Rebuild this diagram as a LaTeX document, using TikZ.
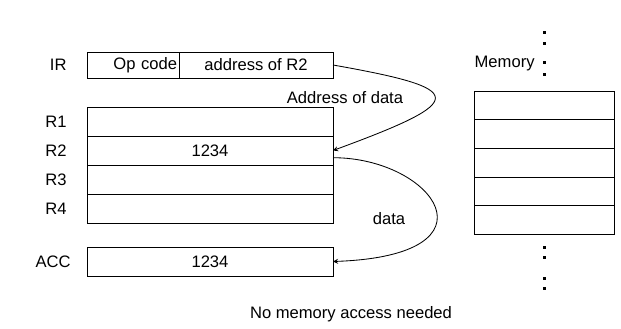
\documentclass[tikz,border=0pt]{standalone}
\usepackage{fontspec}
\setmainfont{Liberation Sans}
\usetikzlibrary{positioning,arrows}
\tikzset{
  regbox/.style={rectangle, draw=black, minimum width=6.15cm, minimum height=0.725cm, inner sep=0pt, outer sep=0pt},
  opbox/.style={rectangle, draw=black, minimum width=2.3cm, minimum height=0.65cm, inner sep=0pt, outer sep=0pt},
  addrbox/.style={rectangle, draw=black, minimum width=3.85cm, minimum height=0.65cm, inner sep=0pt, outer sep=0pt},
  membox/.style={rectangle, draw=black, minimum width=3.5cm, minimum height=0.715cm, inner sep=0pt, outer sep=0pt},
  lbl/.style={inner sep=0pt},
  dot/.style={rectangle, fill=black, minimum size=0.075cm, inner sep=0pt},
  node distance=0pt
}
\begin{document}
\begin{tikzpicture}[line width=0.6pt, font=\fontsize{11.8}{13}\selectfont, >=stealth]
	\useasboundingbox (0,0) rectangle (15.525,-8.225);
	\node[opbox, text width=2.2cm, align=right] (opcode) at (3.325,-1.625) {Op code};
	\node[addrbox, right=of opcode] (addr) {address of R2};
	\node[lbl, left=0.5cm of opcode] (ir) {IR};
	%
	\node[regbox] (r1) at (5.25,-3.0375) {};
	\node[regbox, below=of r1] (r2) {1234};
	\node[regbox, below=of r2] (r3) {};
	\node[regbox, below=of r3] (r4) {};
	\node[regbox] (acc) at (5.25,-6.5375) {1234};
	\foreach \r in {1,...,4}
		\node[lbl, left=0.5cm of r\r] (l\r) {R\r};
	\node[lbl, left=0.4cm of acc] (lacc) {ACC};
	%
	\node[membox] (m1) at (13.6,-2.6375) {};
	\node[membox, below=of m1] (m2) {};
	\node[membox, below=of m2] (m3) {};
	\node[membox, below=of m3] (m4) {};
	\node[membox, below=of m4] (m5) {};
	\node[lbl, anchor=east] (mem) at (13.375,-1.6) {Memory};
	\foreach \y [count=\i] in {-0.8,-1.075,-1.55,-1.85,-6.175,-6.425,-6.95,-7.2}
		\node[dot] (d\i) at (13.6,\y) {};
	%
	\draw[->] (addr.east) .. controls +(3.4,-0.6) and +(3.4,1.25) .. (r2.east);
	\draw[->] ([yshift=-0.18cm]r2.east) .. controls +(2.5,0) and +(4.3,0.15) .. (acc.east);
	\node[lbl] (addrlbl) at (8.625,-2.45) {Address of data};
	\node[lbl] (datalbl) at (9.725,-5.475) {data};
	\node[lbl] (note) at (8.775,-7.85) {No memory access needed};
\end{tikzpicture}
\end{document}
